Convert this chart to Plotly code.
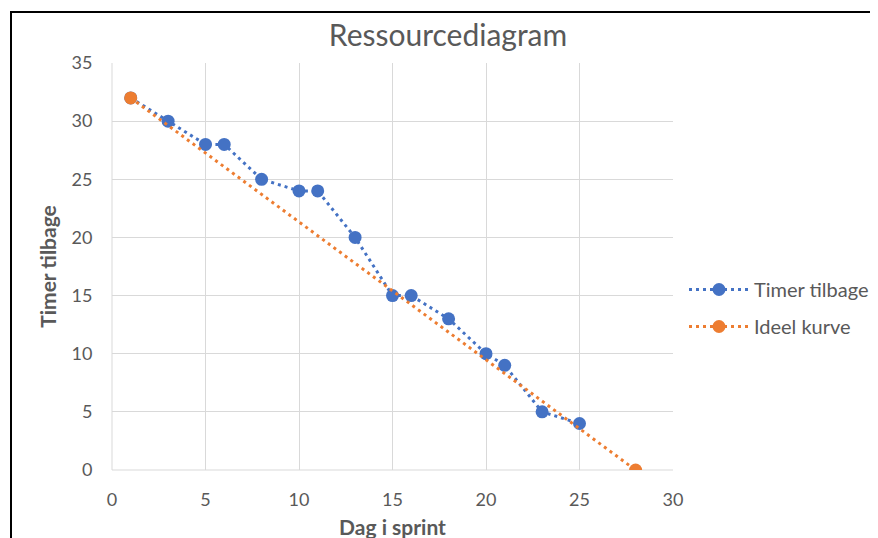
import plotly.graph_objects as go

days_actual = [1, 3, 5, 6, 8, 10, 11, 13, 15, 16, 18, 20, 21, 23, 25]
hours_actual = [32, 30, 28, 28, 25, 24, 24, 20, 15, 15, 13, 10, 9, 5, 4]
days_ideal = [1, 28]
hours_ideal = [32, 0]

BLUE = "#4472C4"
ORANGE = "#ED7D31"
FONT = "Lato"
GREY = "#595959"

fig = go.Figure()
fig.add_trace(go.Scatter(
    x=days_actual, y=hours_actual, mode="lines+markers", name="Timer tilbage",
    line=dict(color=BLUE, width=3, dash="3px,4px"),
    marker=dict(color=BLUE, size=13), legendgroup="a"))
fig.add_trace(go.Scatter(
    x=days_ideal, y=hours_ideal, mode="lines+markers", name="Ideel kurve",
    line=dict(color=ORANGE, width=3, dash="3px,4px"),
    marker=dict(color=ORANGE, size=13), legendgroup="b"))

# page offset (browser body margin)
OFF = 8
W, H = 878, 538
L, R, T, B = 112 - OFF, 673 - OFF, 63 - OFF, 470 - OFF
pw, ph = R - L, B - T

def px2x(px):
    return (px - OFF - L) / pw

def py2y(py):
    return (B - (py - OFF)) / ph

fig.update_layout(
    width=W, height=H,
    margin=dict(l=L, r=W - R, t=T, b=H - B, autoexpand=False),
    paper_bgcolor="white", plot_bgcolor="white",
    font=dict(family=FONT, color=GREY, size=18),
    title=dict(text="Ressourcediagram", x=(448 - OFF) / W, xanchor="center",
               y=1 - (35 - OFF) / H, yanchor="middle",
               font=dict(size=30, color=GREY, family=FONT)),
    showlegend=True,
    legend=dict(x=px2x(684), y=py2y(270), xanchor="left", yanchor="top",
                font=dict(size=20, color=GREY), tracegroupgap=8,
                itemwidth=60, bgcolor="rgba(0,0,0,0)"),
    xaxis=dict(range=[0, 30], tickmode="linear", tick0=0, dtick=5,
               showgrid=True, gridcolor="#D9D9D9", gridwidth=1,
               zeroline=False, showline=False, automargin=False,
               ticks="outside", ticklen=13, tickcolor="rgba(0,0,0,0)",
               tickfont=dict(size=18, color=GREY),
               title=dict(text="<b>Dag i sprint</b>", standoff=11,
                          font=dict(size=21, color=GREY))),
    yaxis=dict(range=[0, 35], tickmode="linear", tick0=0, dtick=5,
               showgrid=True, gridcolor="#D9D9D9", gridwidth=1,
               zeroline=False, showline=False, automargin=False,
               ticks="outside", ticklen=15, tickcolor="rgba(0,0,0,0)",
               tickfont=dict(size=18, color=GREY),
               title=dict(text="<b>Timer tilbage</b>", standoff=9,
                          font=dict(size=21, color=GREY))),
)

fig.add_shape(type="line", xref="paper", yref="paper", x0=0, x1=0, y0=0, y1=1,
              line=dict(color="#D9D9D9", width=1), layer="below")
fig.add_shape(type="line", xref="paper", yref="paper", x0=0, x1=1, y0=0, y1=0,
              line=dict(color="#D9D9D9", width=1), layer="below")

# Outer frame (cropped in reference: only left and top edges visible)
fig.add_shape(type="line", xref="paper", yref="paper",
              x0=px2x(11), x1=px2x(11), y0=py2y(12), y1=py2y(560),
              line=dict(color="black", width=2))
fig.add_shape(type="line", xref="paper", yref="paper",
              x0=px2x(10), x1=px2x(900), y0=py2y(12), y1=py2y(12),
              line=dict(color="black", width=2))

fig.write_html("out.html")
